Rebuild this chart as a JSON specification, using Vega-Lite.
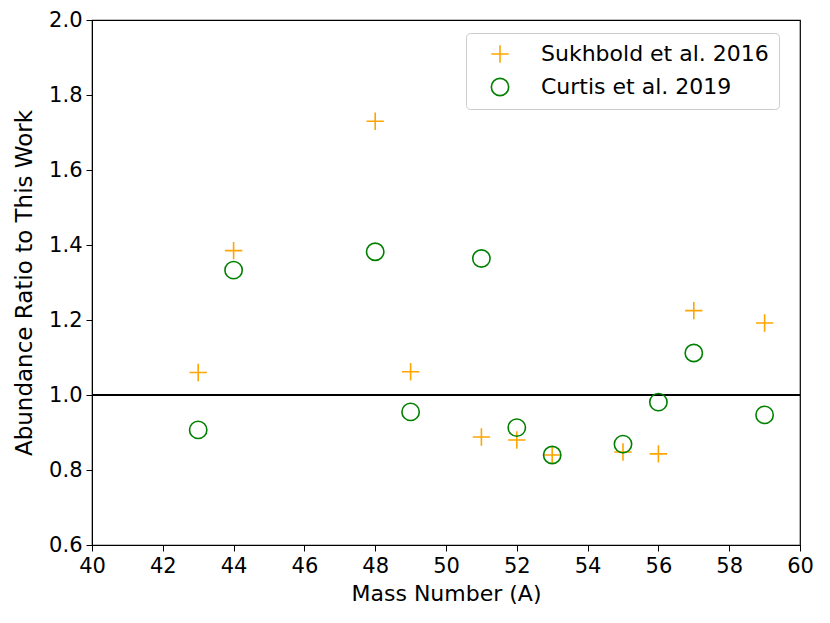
{
  "$schema": "https://vega.github.io/schema/vega-lite/v6.json",
  "width": 708,
  "height": 525,
  "autosize": {"type": "none"},
  "padding": {"left": 92, "top": 20, "right": 30, "bottom": 78},
  "background": "white",
  "config": {
    "font": "DejaVu Sans",
    "view": {"stroke": "black", "strokeWidth": 1.2},
    "axis": {
      "grid": false,
      "domainColor": "black",
      "tickColor": "black",
      "labelColor": "black",
      "titleColor": "black",
      "titleFontWeight": "normal",
      "tickSize": 6,
      "labelPadding": 4,
      "labelFlush": false,
      "labelOverlap": false
    }
  },
  "datasets": {
    "pts": [
      {"A": 43, "ratio": 1.06, "source": "Sukhbold et al. 2016"},
      {"A": 44, "ratio": 1.385, "source": "Sukhbold et al. 2016"},
      {"A": 48, "ratio": 1.73, "source": "Sukhbold et al. 2016"},
      {"A": 49, "ratio": 1.062, "source": "Sukhbold et al. 2016"},
      {"A": 51, "ratio": 0.888, "source": "Sukhbold et al. 2016"},
      {"A": 52, "ratio": 0.88, "source": "Sukhbold et al. 2016"},
      {"A": 53, "ratio": 0.84, "source": "Sukhbold et al. 2016"},
      {"A": 55, "ratio": 0.848, "source": "Sukhbold et al. 2016"},
      {"A": 56, "ratio": 0.843, "source": "Sukhbold et al. 2016"},
      {"A": 57, "ratio": 1.225, "source": "Sukhbold et al. 2016"},
      {"A": 59, "ratio": 1.192, "source": "Sukhbold et al. 2016"},
      {"A": 43, "ratio": 0.907, "source": "Curtis et al. 2019"},
      {"A": 44, "ratio": 1.333, "source": "Curtis et al. 2019"},
      {"A": 48, "ratio": 1.382, "source": "Curtis et al. 2019"},
      {"A": 49, "ratio": 0.955, "source": "Curtis et al. 2019"},
      {"A": 51, "ratio": 1.364, "source": "Curtis et al. 2019"},
      {"A": 52, "ratio": 0.913, "source": "Curtis et al. 2019"},
      {"A": 53, "ratio": 0.84, "source": "Curtis et al. 2019"},
      {"A": 55, "ratio": 0.869, "source": "Curtis et al. 2019"},
      {"A": 56, "ratio": 0.981, "source": "Curtis et al. 2019"},
      {"A": 57, "ratio": 1.112, "source": "Curtis et al. 2019"},
      {"A": 59, "ratio": 0.947, "source": "Curtis et al. 2019"}
    ],
    "ref": [{"y": 1.0}]
  },
  "layer": [
    {
      "data": {"name": "ref"},
      "mark": {"type": "rule", "color": "black", "strokeWidth": 2},
      "encoding": {"y": {"field": "y", "type": "quantitative", "scale": {"domain": [0.6, 2.0]}}}
    },
    {
      "data": {"name": "pts"},
      "mark": {"type": "point", "filled": false, "strokeWidth": 1.6, "opacity": 1},
      "encoding": {
        "x": {
          "field": "A", "type": "quantitative",
          "scale": {"domain": [40, 60], "nice": false, "zero": false},
          "axis": {"values": [40,42,44,46,48,50,52,54,56,58,60], "format": "d", "title": "Mass Number (A)", "titlePadding": 7, "labelFontSize": 21, "titleFontSize": 22}
        },
        "y": {
          "field": "ratio", "type": "quantitative",
          "scale": {"domain": [0.6, 2.0], "nice": false, "zero": false},
          "axis": {"values": [0.6,0.8,1.0,1.2,1.4,1.6,1.8,2.0], "format": ".1f", "title": "Abundance Ratio to This Work", "titlePadding": 12, "labelFontSize": 21, "titleFontSize": 23}
        },
        "color": {
          "field": "source", "type": "nominal",
          "scale": {"domain": ["Sukhbold et al. 2016", "Curtis et al. 2019"], "range": ["orange", "green"]},
          "legend": {
            "title": null,
            "orient": "none",
            "legendX": 374,
            "legendY": 13,
            "labelFontSize": 22,
            "labelColor": "black",
            "labelLimit": 400,
            "symbolSize": 300,
            "symbolStrokeWidth": 1.6,
            "symbolFillColor": "transparent",
            "rowPadding": 9,
            "padding": 10,
            "fillColor": "white",
            "strokeColor": "#cccccc",
            "cornerRadius": 4,
            "labelOffset": 30,
            "symbolOffset": 13
          }
        },
        "shape": {
          "field": "source", "type": "nominal",
          "scale": {"domain": ["Sukhbold et al. 2016", "Curtis et al. 2019"], "range": ["M-1,0H1M0,-1V1", "circle"]},
          "legend": {
            "title": null,
            "orient": "none",
            "legendX": 374,
            "legendY": 13,
            "labelFontSize": 22,
            "labelColor": "black",
            "labelLimit": 400,
            "symbolSize": 300,
            "symbolStrokeWidth": 1.6,
            "symbolFillColor": "transparent",
            "rowPadding": 9,
            "padding": 10,
            "fillColor": "white",
            "strokeColor": "#cccccc",
            "cornerRadius": 4,
            "labelOffset": 30,
            "symbolOffset": 13
          }
        },
        "size": {"value": 300}
      }
    }
  ]
}
